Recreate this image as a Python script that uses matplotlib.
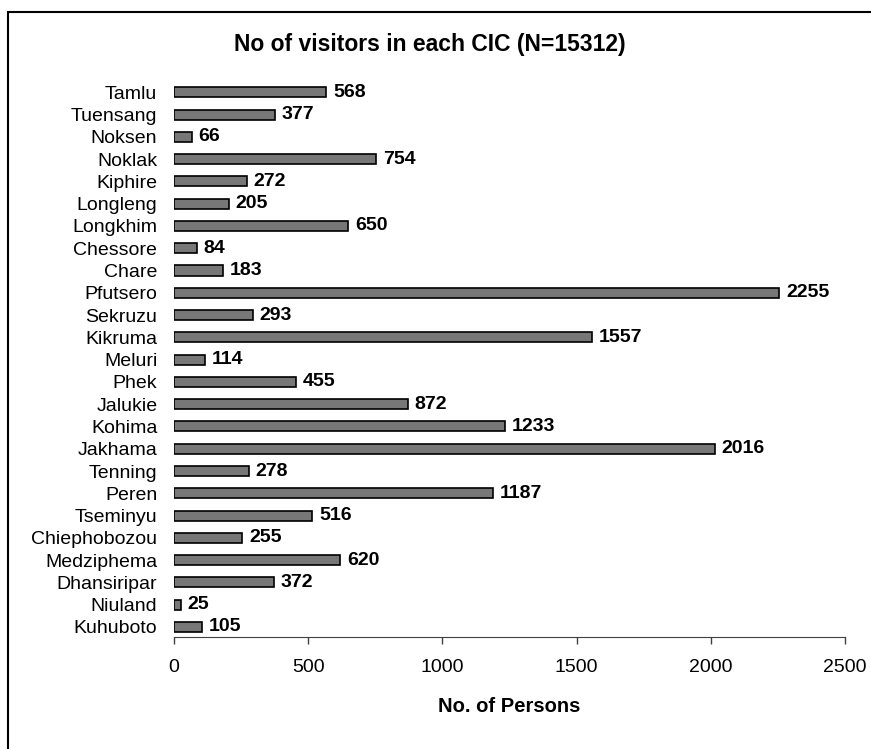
import matplotlib
matplotlib.use("Agg")
import matplotlib.pyplot as plt
from matplotlib.patches import Rectangle

plt.rcParams['font.family'] = ['Liberation Sans', 'DejaVu Sans']

categories = ["Kuhuboto", "Niuland", "Dhansiripar", "Medziphema", "Chiephobozou",
              "Tseminyu", "Peren", "Tenning", "Jakhama", "Kohima", "Jalukie", "Phek",
              "Meluri", "Kikruma", "Sekruzu", "Pfutsero", "Chare", "Chessore",
              "Longkhim", "Longleng", "Kiphire", "Noklak", "Noksen", "Tuensang", "Tamlu"]
values = [105, 25, 372, 620, 255, 516, 1187, 278, 2016, 1233, 872, 455,
          114, 1557, 293, 2255, 183, 84, 650, 205, 272, 754, 66, 377, 568]
xticks = [0, 500, 1000, 1500, 2000, 2500]

fig = plt.figure(figsize=(8.71, 7.49), dpi=100)
fig.patches.append(Rectangle((8/871, -0.1), 1.2, 1 - 12/749 + 0.1,
                             transform=fig.transFigure, fill=False,
                             edgecolor='black', linewidth=1.5))
ax = fig.add_axes([174/871, 1 - 637/749, (845 - 174)/871, (637 - 80)/749])

y = list(range(len(categories)))
ax.barh(y, values, height=0.45, color='#777777', edgecolor='black', linewidth=1.2)
for yi, v in zip(y, values):
    ax.text(v + 25, yi, str(v), va='center', ha='left', fontsize=14, fontweight='bold')

ax.set_xlim(0, 2500)
ax.set_ylim(-0.45, len(categories) - 0.45)
ax.set_yticks(y)
ax.set_yticklabels(categories, fontsize=14)
ax.tick_params(axis='y', length=0, pad=12)
ax.set_xticks(xticks)
ax.set_xticklabels([str(t) for t in xticks], fontsize=14)
ax.tick_params(axis='x', length=5, width=1, color='#404040', pad=11)
for s in ['top', 'right', 'left']:
    ax.spines[s].set_visible(False)
ax.spines['bottom'].set_color('#404040')
ax.set_xlabel("No. of Persons", fontsize=14.5, fontweight='bold', labelpad=15)
fig.text(430/871, 1 - 45/749, "No of visitors in each CIC (N=15312)",
         ha='center', va='center', fontsize=16.5, fontweight='bold')

fig.savefig("out.png", dpi=100)
